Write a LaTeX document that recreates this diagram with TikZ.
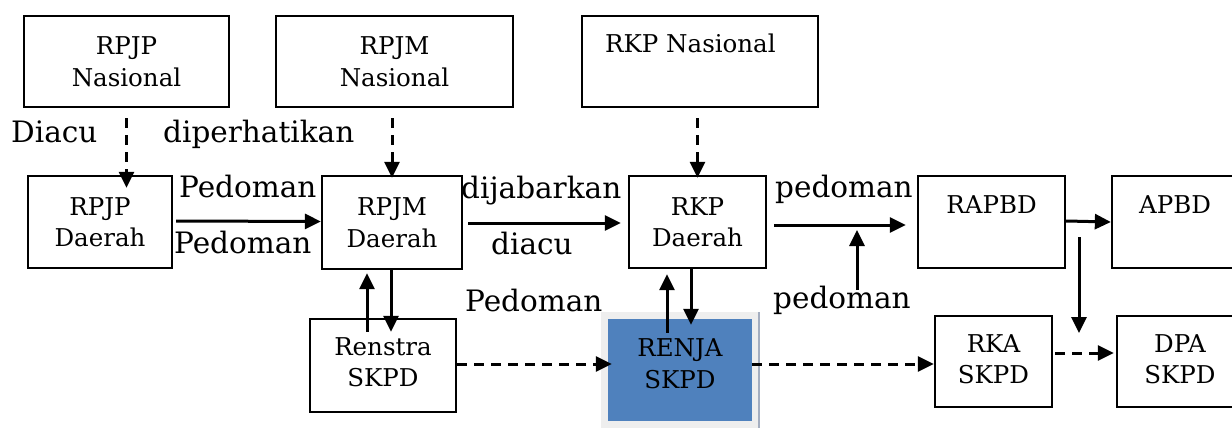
\documentclass[tikz,border=0pt]{standalone}
\usepackage{fontspec}
\setmainfont{DejaVu Serif}
\usetikzlibrary{arrows.meta,calc}
\newcommand{\boxfont}{\fontsize{24.5}{31.5}\selectfont}
\newcommand{\lblfont}{\fontsize{29.5}{34}\selectfont}
\definecolor{renjablue}{HTML}{4F81BD}
\definecolor{framegray}{HTML}{EEEEEE}
\definecolor{edgegray}{HTML}{A4AEC0}
\tikzset{
  box/.style={draw, line width=2.3pt, inner sep=0pt, align=center, font=\boxfont},
  boxtext/.style={anchor=base, inner sep=0pt, font=\boxfont},
  lbl/.style={anchor=base west, inner sep=0pt, font=\lblfont},
  arr/.style={-{Triangle[length=16pt,width=15pt]}, line width=3pt},
  darr/.style={arr, dash pattern=on 10pt off 7pt},
}
\begin{document}
\begin{tikzpicture}[x=1pt,y=-1pt]
\useasboundingbox (0,0) rectangle (1232,428);
\clip (0,0) rectangle (1232,428);
% top row
\node[box, minimum width=205pt, minimum height=91pt] (rpjpn) at (126.5,61.5) {RPJP\\Nasional};
\node[box, minimum width=237pt, minimum height=91pt] (rpjmn) at (394.5,61.5) {RPJM\\Nasional};
\node[box, minimum width=236pt, minimum height=91pt] (rkpn) at (700,61.5) {};
\node[boxtext, anchor=base west] (rkpnt) at (605,53) {RKP Nasional};
% middle row
\node[box, minimum width=144pt, minimum height=92pt] (rpjpd) at (100,222) {RPJP\\Daerah};
\node[box, minimum width=140pt, minimum height=93pt] (rpjmd) at (392,222.5) {RPJM\\Daerah};
\node[box, minimum width=137pt, minimum height=92pt] (rkpd) at (697.5,222) {RKP\\Daerah};
\node[box, minimum width=147pt, minimum height=92pt] (rapbd) at (991.5,222) {};
\node[boxtext] (rapbdt) at (991.5,213) {RAPBD};
\node[box, minimum width=126pt, minimum height=92pt] (apbd) at (1175,222) {};
\node[boxtext] (apbdt) at (1175,213) {APBD};
% bottom row
\node[box, minimum width=146pt, minimum height=93pt, text depth=7pt] (renstra) at (383,365.5) {Renstra\\SKPD};
\fill[framegray] (601,312) rectangle (760,428);
\draw[edgegray, line width=2pt] (759,312) -- (759,428);
\node[fill=renjablue, inner sep=0pt, align=center, font=\boxfont, minimum width=144pt, minimum height=102pt, text depth=13pt] (renja) at (680,370) {RENJA\\SKPD};
\node[box, minimum width=117pt, minimum height=91pt, text depth=5pt] (rka) at (993.5,361.5) {RKA\\SKPD};
\node[box, minimum width=126pt, minimum height=91pt, text depth=5pt] (dpa) at (1180,361.5) {DPA\\SKPD};
% labels
\node[lbl] (l1) at (11,142) {Diacu};
\node[lbl] (l2) at (163,142) {diperhatikan};
\node[lbl] (l3) at (179,197) {Pedoman};
\node[lbl] (l4) at (174,253) {Pedoman};
\node[lbl] (l5) at (461,198) {dijabarkan};
\node[lbl] (l6) at (491,254) {diacu};
\node[lbl] (l7) at (465,311) {Pedoman};
\node[lbl] (l8) at (775,197) {pedoman};
\node[lbl] (l9) at (773,308) {pedoman};
% dashed vertical arrows from national level
\draw[darr] ([yshift=-10pt]rpjpn.south) -- ([yshift=-10pt]rpjpn.south |- rpjpd.north) -- ++(0,3);
\draw[darr] ([yshift=-10pt]rpjmn.south -| rpjmd.north) -- ([yshift=-3pt]rpjmd.north);
\draw[darr] ([yshift=-10pt]rkpn.south -| rkpd.north) -- ([yshift=-3pt]rkpd.north);
% horizontal solid arrows
\draw[arr] ([xshift=3pt,yshift=1pt]rpjpd.east) -- ([yshift=1pt]rpjmd.west);
\draw[arr, shorten >=7pt] ([xshift=5pt]rpjmd.east |- 0,223) -- (rkpd.west |- 0,223);
\draw[arr, shorten >=11pt, shorten <=7pt] (rkpd.east |- 0,225) -- (rapbd.west |- 0,225);
\coordinate (pmlow) at (857,290);
\coordinate (pmtop) at (857,230);
\draw[arr] (pmlow) -- (pmtop);
\draw[arr] ([yshift=1pt]rapbd.east) -- (apbd.west);
\coordinate (vA) at (1079,237);
\coordinate (vB) at (1079,333);
\draw[arr] (vA) -- (vB);
% RPJMD <-> Renstra
\draw[arr] ($(renstra.north)+(-16,14)$) -- ($(rpjmd.south)+(-25,3)$);
\draw[arr] ($(rpjmd.south)+(-1,0)$) -- ($(renstra.north)+(8,14)$);
% RKPD <-> RENJA
\draw[arr] ($(renja.north)+(-13,14)$) -- ($(rkpd.south)+(-30.5,5)$);
\draw[arr] ($(rkpd.south)+(-6.5,0)$) -- ($(renja.north)+(11,6)$);
% dashed horizontal arrows
\draw[darr] (renstra.east |- 0,364) -- ([xshift=4pt]renja.west |- 0,364);
\draw[darr] (renja.east |- 0,364) -- (rka.west |- 0,364);
\draw[darr] ([xshift=2pt]rka.east |- 0,353) -- ([xshift=-2pt]dpa.west |- 0,353);
\end{tikzpicture}
\end{document}
